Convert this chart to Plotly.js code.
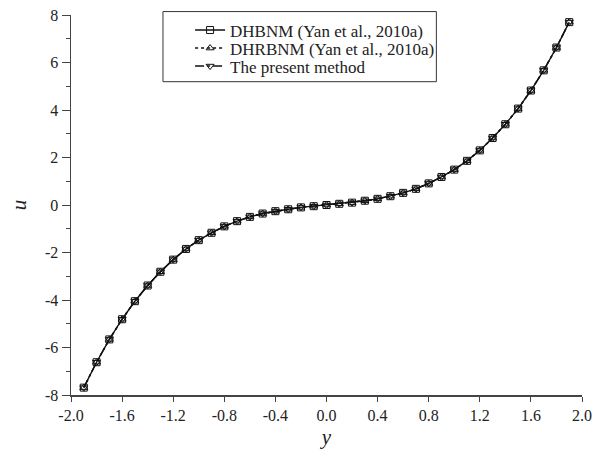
<!DOCTYPE html>
<html>
<head>
<meta charset="utf-8">
<script src="https://cdn.plot.ly/plotly-3.0.1.min.js"></script>
<style>html,body{margin:0;padding:0;background:#fff}#chart{width:604px;height:450px}</style>
</head>
<body>
<div id="chart"></div>
<script>
// ---- data ----
const yVals = [-1.9,-1.8,-1.7,-1.6,-1.5,-1.4,-1.3,-1.2,-1.1,-1.0,-0.9,-0.8,-0.7,-0.6,-0.5,-0.4,-0.3,-0.2,-0.1,0.0,
               0.1,0.2,0.3,0.4,0.5,0.6,0.7,0.8,0.9,1.0,1.1,1.2,1.3,1.4,1.5,1.6,1.7,1.8,1.9];
const uDHBNM = [-7.69,-6.62,-5.66,-4.81,-4.05,-3.39,-2.81,-2.30,-1.85,-1.48,-1.17,-0.90,-0.68,-0.50,-0.36,-0.26,-0.18,-0.10,-0.05,0.00,
                0.05,0.10,0.18,0.26,0.37,0.51,0.68,0.91,1.18,1.49,1.86,2.30,2.82,3.40,4.06,4.82,5.67,6.63,7.70];
const uDHRBNM = [-7.69,-6.62,-5.66,-4.81,-4.05,-3.39,-2.81,-2.30,-1.85,-1.48,-1.17,-0.90,-0.68,-0.50,-0.36,-0.26,-0.18,-0.10,-0.05,0.00,
                0.05,0.10,0.18,0.26,0.37,0.51,0.68,0.91,1.18,1.49,1.86,2.30,2.82,3.40,4.06,4.82,5.67,6.63,7.70];
const uPresent = [-7.69,-6.62,-5.66,-4.81,-4.05,-3.39,-2.81,-2.30,-1.85,-1.48,-1.17,-0.90,-0.68,-0.50,-0.36,-0.26,-0.18,-0.10,-0.05,0.00,
                0.05,0.10,0.18,0.26,0.37,0.51,0.68,0.91,1.18,1.49,1.86,2.30,2.82,3.40,4.06,4.82,5.67,6.63,7.70];
const seriesNames = ['DHBNM (Yan et al., 2010a)', 'DHRBNM (Yan et al., 2010a)', 'The present method'];
const xTickVals = [-2.0,-1.6,-1.2,-0.8,-0.4,0.0,0.4,0.8,1.2,1.6,2.0];
const xTickText = ['-2.0','-1.6','-1.2','-0.8','-0.4','0.0','0.4','0.8','1.2','1.6','2.0'];
const yTickVals = [-8,-6,-4,-2,0,2,4,6,8];
const yTickText = ['-8','-6','-4','-2','0','2','4','6','8'];
const yMinorVals = [-7,-5,-3,-1,1,3,5,7];

const serif = 'Liberation Serif, Times New Roman, serif';
function tr(u, name, dash, sym, leg) {
  return {
    x: yVals, y: u, name: name, type: 'scatter', mode: 'lines+markers', legend: leg,
    line: {color: '#111', width: 1.4, dash: dash},
    marker: {symbol: sym, size: 7, color: '#111', line: {width: 1}}
  };
}
const data = [
  tr(uDHBNM, seriesNames[0], 'solid', 'square-open', 'legend'),
  tr(uDHRBNM, seriesNames[1], 'dot', 'triangle-up-open', 'legend2'),
  tr(uPresent, seriesNames[2], 'dashdot', 'triangle-down-open', 'legend3')
];
function leg(y) {
  return {x: 0.233, y: y, xanchor: 'left', yanchor: 'top', bgcolor: 'rgba(0,0,0,0)',
          borderwidth: 0, font: {family: serif, size: 17, color: '#222'}};
}
const layout = {
  width: 604, height: 450,
  margin: {l: 71, r: 22, t: 15, b: 55},
  paper_bgcolor: '#fff', plot_bgcolor: '#fff',
  font: {family: serif, size: 16, color: '#222'},
  showlegend: true,
  legend: leg(1.0066), legend2: leg(0.9592), legend3: leg(0.9118),
  xaxis: {
    range: [-2, 2], tickmode: 'array', tickvals: xTickVals, ticktext: xTickText,
    ticks: 'outside', ticklen: 5, tickwidth: 1, tickcolor: '#444',
    showline: true, linecolor: '#444', linewidth: 1.5, showgrid: false, zeroline: false,
    tickfont: {family: serif, size: 16, color: '#222'},
    title: {text: '<i>y</i>', font: {family: serif, size: 21, color: '#222'}, standoff: 6}
  },
  yaxis: {
    range: [-8, 8], tickmode: 'array', tickvals: yTickVals, ticktext: yTickText,
    ticks: 'outside', ticklen: 8, tickwidth: 1, tickcolor: '#444',
    minor: {tickmode: 'array', tickvals: yMinorVals, ticks: 'outside', ticklen: 4, tickcolor: '#444', tickwidth: 1},
    showline: true, linecolor: '#444', linewidth: 1.5, showgrid: false, zeroline: false,
    tickfont: {family: serif, size: 16, color: '#222'},
    title: {text: '<i>u</i>', font: {family: serif, size: 21, color: '#222'}, standoff: 12}
  },
  shapes: [{type: 'rect', xref: 'paper', yref: 'paper', x0: 0.18, x1: 0.715, y0: 0.8245, y1: 1.009,
            line: {color: '#333', width: 1}, fillcolor: 'rgba(0,0,0,0)'}]
};
Plotly.newPlot('chart', data, layout, {displayModeBar: false, staticPlot: true});
</script>
</body>
</html>
